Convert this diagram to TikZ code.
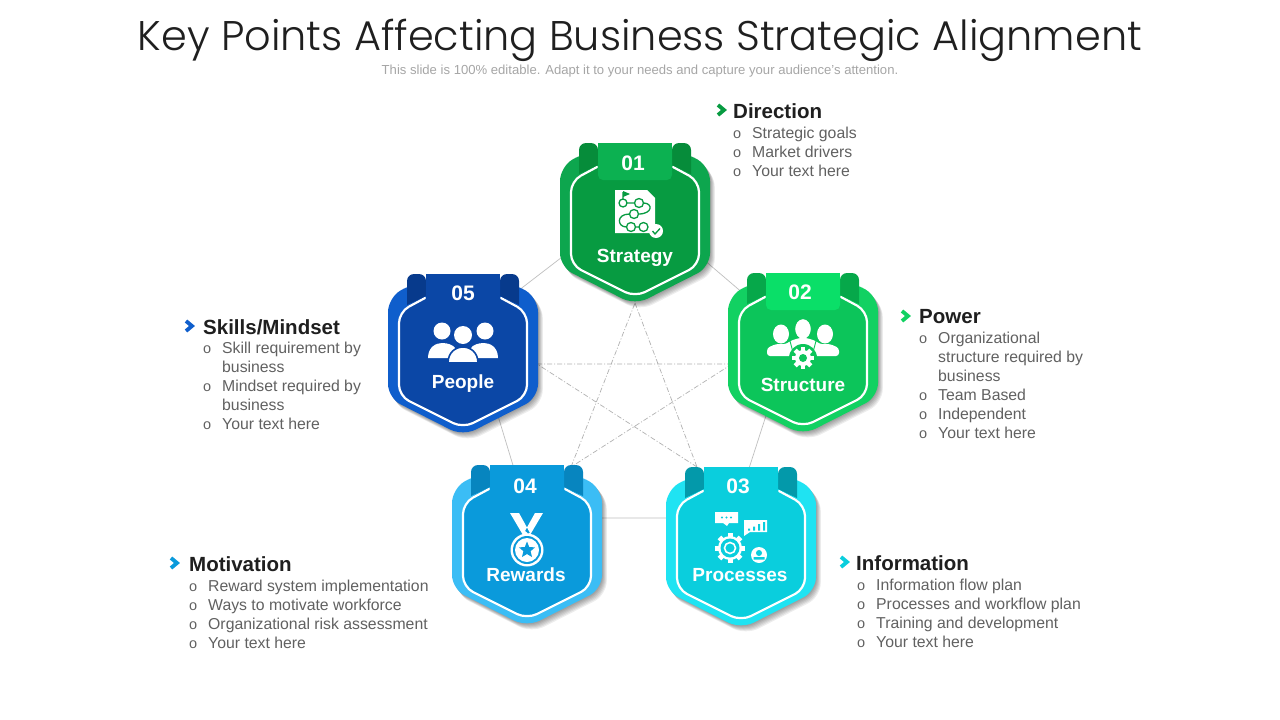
\documentclass[tikz,border=0pt]{standalone}
\usepackage{fontspec}
\setmainfont{Liberation Sans}
\newfontfamily\titlefont{Poppins Light}
\usetikzlibrary{calc,positioning}
\definecolor{stratO}{HTML}{0DA64E}\definecolor{stratI}{HTML}{079B41}\definecolor{stratT}{HTML}{0CB151}\definecolor{stratF}{HTML}{068C3A}
\definecolor{structO}{HTML}{12D162}\definecolor{structI}{HTML}{0CC55A}\definecolor{structT}{HTML}{0ADF68}\definecolor{structF}{HTML}{06A84A}
\definecolor{procO}{HTML}{1FE3F2}\definecolor{procI}{HTML}{0ACEDD}\definecolor{procT}{HTML}{0ACEDD}\definecolor{procF}{HTML}{0399AA}
\definecolor{rewO}{HTML}{3BBDF5}\definecolor{rewI}{HTML}{0A9ADB}\definecolor{rewT}{HTML}{0A9ADB}\definecolor{rewF}{HTML}{0785BF}
\definecolor{peopO}{HTML}{0F5ECC}\definecolor{peopI}{HTML}{0B47A6}\definecolor{peopT}{HTML}{0B47A6}\definecolor{peopF}{HTML}{073A8C}
\tikzset{
  hub/.style={inner sep=0pt,minimum size=0pt},
  plainlink/.style={draw=black!25,line width=.7pt},
  starlink/.style={draw=black!30,line width=.7pt,dash pattern=on 5pt off 2pt on 1pt off 2pt},
  badgenum/.style={text=white,font=\fontsize{21}{21}\selectfont\bfseries},
  badgename/.style={text=white,font=\fontsize{19}{19}\selectfont\bfseries},
  headtext/.style={anchor=west,inner sep=0pt,text=black!88,font=\fontsize{20.5}{20.5}\selectfont\bfseries},
  listtext/.style={anchor=north west,inner sep=0pt,align=left,text=black!62,font=\fontsize{15.8}{19}\selectfont},
  chev/.style={line width=3.8pt,line cap=butt,miter limit=10}
}
\newcommand\itm[1]{\makebox[19pt][l]{\raisebox{.3pt}{\fontsize{14.5}{14.5}\selectfont o}}#1}
\newcommand\cnt[1]{\makebox[19pt][l]{}#1}
\newcommand\outerpath{(-50,-9) -- (-75,-24) -- (-75,-124) -- (0,-162) -- (75,-124) -- (75,-24) -- (50,-9) -- cycle}
\newcommand\badge[3]{
  \begin{scope}[shift={(#1)}]
    \foreach \s in {1,2,3,4,5,6}
      \fill[black,opacity=.07,rounded corners=14pt,shift={(\s*.8,-\s)}] \outerpath;
    \fill[#2O,rounded corners=14pt] \outerpath;
    \fill[#2I,rounded corners=11pt]
      (-64,-38) -- (-40,-22) -- (40,-22) -- (64,-38) -- (64,-122) -- (0,-154) -- (-64,-122) -- cycle;
    \draw[white,line width=2.2pt,rounded corners=11pt,line cap=round]
      (-38,-24) -- (-64,-38) -- (-64,-122) -- (0,-154) -- (64,-122) -- (64,-38) -- (38,-24);
    \fill[#2F,rounded corners=7pt] (-56,-31) -- (-56,0) -- (-37,0) [sharp corners] -- (-37,-22) -- cycle;
    \fill[#2F,rounded corners=7pt] (56,-31) -- (56,0) -- (37,0) [sharp corners] -- (37,-22) -- cycle;
    \fill[#2T,rounded corners=5pt] (-37,-37) rectangle (37,0);
    \fill[#2T] (-37,-20) rectangle (37,0);
    #3
  \end{scope}
}
\begin{document}
\begin{tikzpicture}[x=1pt,y=1pt]
\useasboundingbox (0,0) rectangle (1280,-720);
\fill[white] (0,0) rectangle (1280,-720);
\node[hub] (strategy) at (635,-201) {};
\node[hub] (structure) at (792,-335) {};
\node[hub] (processes) at (733,-518) {};
\node[hub] (rewards) at (529,-518) {};
\node[hub] (people) at (471,-327) {};
\coordinate (strategytip) at (635,-303);
\coordinate (structuretip) at (732,-364);
\coordinate (processestip) at (697,-467);
\coordinate (rewardstip) at (571,-467);
\coordinate (peopletip) at (537,-364);
\draw[plainlink] (strategy) -- (structure) -- (processes) -- (rewards) -- (people) -- (strategy);
\draw[starlink] (strategytip) -- (processestip) (processestip) -- (peopletip) (peopletip) -- (structuretip) (structuretip) -- (rewardstip) (rewardstip) -- (strategytip);

\node[text=black!88,font=\titlefont\fontsize{41.45}{41.45}\selectfont] (title) at (640,-40) {Key Points Affecting Business Strategic Alignment};
\node[text=black!35,font=\fontsize{13.1}{13.1}\selectfont] (subtitle) at (640,-71) {This slide is 100\% editable. Adapt it to your needs and capture your audience's attention.};

\badge{635,-143}{strat}{
  \node[badgenum] (num1) at (-2,-20) {01};
  \node[badgename] (name1) at (0,-115) {Strategy};
  \fill[white] (-20,-47) -- (12,-47) -- (20,-55) -- (20,-90) -- (-20,-90) -- cycle;
  \draw[stratI,line width=1.3pt] (-12,-60) circle (4pt) (4,-60) circle (4.5pt) (-1,-71) circle (4.5pt) (-4,-84) circle (4.5pt) (8.5,-84) circle (4.5pt)
    (-8,-60) -- (-0.5,-60) (8.5,-60) .. controls (18,-60) and (18,-71) .. (3.5,-71) (-5.5,-71) .. controls (-19,-71) and (-18,-84) .. (-8.5,-84) (0.5,-84) -- (4,-84) (-12,-56) -- (-12,-49);
  \fill[stratI] (-12,-48) -- (-5,-51) -- (-12,-54) -- cycle;
  \fill[white] (21,-88) circle (7pt);
  \draw[stratI,line width=1.3pt] (17.5,-88) -- (20,-91) -- (25,-85.5);
}
\badge{803,-273}{struct}{
  \node[badgenum] (num2) at (-3,-19) {02};
  \node[badgename] (name2) at (0,-112) {Structure};
  \fill[white,rounded corners=3pt] (-36,-83) -- (-36,-75) -- (-27,-71) -- (-16,-71) -- (-13,-68) -- (-4,-65) -- (4,-65) -- (13,-68) -- (16,-71) -- (27,-71) -- (36,-75) -- (36,-83) -- cycle;
  \draw[structI,line width=.9pt] (-13,-68) -- (-9,-83) (13,-68) -- (9,-83);
  \fill[white] (-22,-61) ellipse (8pt and 9.5pt) (22,-61) ellipse (8pt and 9.5pt);
  \draw[white,fill=white] (0,-56) ellipse (7.5pt and 9.5pt);
  \fill[structI] (0,-85) circle (14pt);
  \fill[white] (0,-85) circle (8pt);
  \foreach \a in {0,45,...,315} \fill[white] (0,-85) ++(\a:6) ++(\a+90:2.2) -- ++(\a:5) -- ++(\a-90:4.4) -- ++(\a+180:5) -- cycle;
  \fill[structI] (0,-85) circle (4pt);
}
\badge{741,-467}{proc}{
  \node[badgenum] (num3) at (-3,-19) {03};
  \node[badgename] (name3) at (-1,-108) {Processes};
  \fill[white] (-26,-45) rectangle (-3,-56) (-18,-56) -- (-12,-56) -- (-14,-59) -- cycle;
  \fill[procI] (-19,-50.5) circle (1.2pt) (-14.5,-50.5) circle (1.2pt) (-10,-50.5) circle (1.2pt);
  \fill[white] (3,-53) rectangle (26,-65) (3,-65) -- (9,-65) -- (3,-69) -- cycle;
  \fill[procI] (7,-63.5) rectangle (9,-61.5) (12,-63.5) rectangle (14,-59.5) (17,-63.5) rectangle (19,-57) (22,-63.5) rectangle (24,-55);
  \foreach \a in {0,45,...,315} \fill[white] (-11,-81) ++(\a:10) ++(\a+90:2.5) -- ++(\a:5) -- ++(\a-90:5) -- ++(\a+180:5) -- cycle;
  \fill[white] (-11,-81) circle (12pt);
  \fill[procI] (-11,-81) circle (9.5pt);
  \draw[white,line width=1.6pt] (-11,-81) circle (5.5pt);
  \fill[white] (18,-88) circle (8pt);
  \fill[procI] (18,-86) circle (3pt) (12.5,-92.5) rectangle (23.5,-90);
}
\badge{527,-465}{rew}{
  \node[badgenum] (num4) at (-2,-21) {04};
  \node[badgename] (name4) at (-1,-110) {Rewards};
  \fill[white] (-17,-48) -- (-8,-48) -- (3,-68) -- (-4,-70) -- cycle (16,-48) -- (8,-48) -- (-2,-66) -- (3,-70) -- cycle;
  \fill[white] (0,-85) circle (16.5pt);
  \fill[rewI] (0,-85) circle (14pt);
  \fill[white] (0,-85) circle (12pt);
  \fill[rewI] (0,-76.5) -- (2.2,-82) -- (8,-82.4) -- (3.6,-86.2) -- (5,-92) -- (0,-89) -- (-5,-92) -- (-3.6,-86.2) -- (-8,-82.4) -- (-2.2,-82) -- cycle;
}
\badge{463,-274}{peop}{
  \node[badgenum] (num5) at (0,-19) {05};
  \node[badgename] (name5) at (0,-110) {People};
  \fill[white] (-21,-57) circle (8.5pt) (22,-57) circle (8.5pt) (0,-61) circle (9pt);
  \fill[white] (-35,-84) .. controls (-35,-73) and (-27,-69) .. (-21,-69) .. controls (-15,-69) and (-10,-71) .. (-8,-74) -- (-8,-84) -- cycle;
  \fill[white] (35,-84) .. controls (35,-73) and (27,-69) .. (21,-69) .. controls (15,-69) and (10,-71) .. (8,-74) -- (8,-84) -- cycle;
  \draw[peopI,line width=1.6pt,fill=white] (-15,-89) .. controls (-15,-78) and (-7,-73) .. (0,-73) .. controls (7,-73) and (15,-78) .. (15,-89) -- cycle;
}

\draw[chev,stratI] (718,-105) -- (724,-110) -- (718,-115);
\node[headtext] (head1) at (733,-111) {Direction};
\node[listtext] (list1) at (733,-127) {\itm{Strategic goals}\\\itm{Market drivers}\\\itm{Your text here}};

\draw[chev,structO] (902,-311) -- (908,-316) -- (902,-321);
\node[headtext] (head2) at (919,-317) {Power};
\node[listtext] (list2) at (919,-332) {\itm{Organizational}\\\cnt{structure required by}\\\cnt{business}\\\itm{Team Based}\\\itm{Independent}\\\itm{Your text here}};

\draw[chev,procI] (841,-557) -- (847,-562) -- (841,-567);
\node[headtext] (head3) at (856,-563) {Information};
\node[listtext] (list3) at (857,-579) {\itm{Information flow plan}\\\itm{Processes and workflow plan}\\\itm{Training and development}\\\itm{Your text here}};

\draw[chev,rewI] (171,-558) -- (177,-563) -- (171,-568);
\node[headtext] (head4) at (189,-564) {Motivation};
\node[listtext] (list4) at (189,-580) {\itm{Reward system implementation}\\\itm{Ways to motivate workforce}\\\itm{Organizational risk assessment}\\\itm{Your text here}};

\draw[chev,peopO] (186,-321) -- (192,-326) -- (186,-331);
\node[headtext] (head5) at (203,-327) {Skills/Mindset};
\node[listtext] (list5) at (203,-342) {\itm{Skill requirement by}\\\cnt{business}\\\itm{Mindset required by}\\\cnt{business}\\\itm{Your text here}};
\end{tikzpicture}
\end{document}
